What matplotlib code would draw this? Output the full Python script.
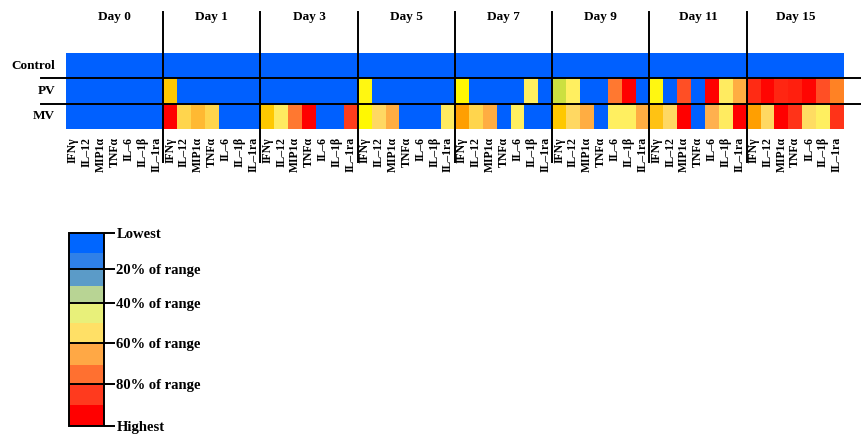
import numpy as np
import matplotlib
matplotlib.use("Agg")
import matplotlib.pyplot as plt
from matplotlib.colors import LinearSegmentedColormap, ListedColormap, BoundaryNorm

plt.rcParams['font.family'] = ['Liberation Serif', 'DejaVu Serif']
plt.rcParams['font.weight'] = 'bold'

days = ["Day 0", "Day 1", "Day 3", "Day 5", "Day 7", "Day 9", "Day 11", "Day 15"]
cytokines = ["IFNγ", "IL–12", "MIP1α", "TNFα", "IL–6", "IL–1β", "IL–1ra"]
groups = ["Control", "PV", "MV"]

# level of each cytokine, % of its range, per day (IFNγ .. IL-1ra)
control = [[0, 0, 0, 0, 0, 0, 0]] * 8
pv = [
    [0, 0, 0, 0, 0, 0, 0],
    [60, 0, 0, 0, 0, 0, 0],
    [0, 0, 0, 0, 0, 0, 0],
    [46, 0, 0, 0, 0, 0, 0],
    [45, 0, 0, 0, 0, 50, 0],
    [38, 50, 0, 0, 78, 100, 0],
    [46, 0, 86, 0, 100, 51, 66],
    [93, 99, 94, 95, 99, 86, 76],
]
mv = [
    [0, 0, 0, 0, 0, 0, 0],
    [100, 56, 63, 56, 0, 0, 0],
    [60, 51, 78, 100, 0, 0, 90],
    [45, 55, 66, 0, 0, 0, 51],
    [70, 56, 66, 0, 50, 0, 0],
    [60, 55, 66, 0, 50, 50, 66],
    [61, 55, 100, 0, 65, 51, 100],
    [70, 55, 100, 92, 54, 50, 92],
]

# legend bands (top = lowest)
legend_bounds = [0, 10.4, 18.7, 27.5, 36.3, 46.6, 57, 68.4, 78.2, 89.1, 100]
legend_colors = ["#0066FF", "#2F80E8", "#5B9BC8", "#B8D494", "#E8F07A",
                 "#FFE066", "#FFA845", "#FF7030", "#FF3A1E", "#FF0000"]
legend_ticks = [0, 18.7, 36.3, 57, 78.2, 100]
legend_labels = ["Lowest", "20% of range", "40% of range", "60% of range",
                 "80% of range", "Highest"]

anchors = [
    (0, "#0060FF"), (20, "#3A86E0"), (30, "#5C9CC4"), (38, "#CCE040"),
    (45, "#FFF800"), (50, "#FFF060"), (55, "#FFD862"), (60, "#FFC800"),
    (65, "#FFB050"), (70, "#FFA000"), (78, "#FF7830"), (85, "#FF5528"),
    (92, "#FF3418"), (100, "#FF0000"),
]
cmap = LinearSegmentedColormap.from_list("levels", [(v / 100, c) for v, c in anchors])

data = np.array([np.concatenate(control), np.concatenate(pv), np.concatenate(mv)])
n_cols = data.shape[1]
n_cyt = len(cytokines)

fig = plt.figure(figsize=(8.62, 4.34), dpi=100)
ax = fig.add_axes([0.0766, 0.703, 0.9024, 0.175])
ax.pcolormesh(np.arange(n_cols + 1), np.arange(4), data, cmap=cmap,
              vmin=0, vmax=100, shading="flat")
ax.set_xlim(0, n_cols)
ax.set_ylim(3, 0)
for s in ax.spines.values():
    s.set_visible(False)
ax.set_yticks([])
ax.set_xticks(np.arange(n_cols) + 0.5)
ax.set_xticklabels(cytokines * len(days), rotation=90, fontsize=8.5,
                   fontweight="bold")
ax.tick_params(axis="x", length=0, pad=6)
for lab in ax.get_xticklabels():
    lab.set_verticalalignment("top")

# row separators and group names
for y in [1, 2]:
    ax.axhline(y, xmin=-0.032, xmax=1.03, color="black", lw=1.4, clip_on=False)
for i, g in enumerate(groups):
    ax.text(-0.014, i + 0.5, g, transform=ax.get_yaxis_transform(),
            ha="right", va="center", fontsize=9.5, fontweight="bold")

# day separators and titles
for d in range(1, len(days)):
    ax.axvline(d * n_cyt, ymin=-0.43, ymax=1.54, color="black", lw=1.4,
               clip_on=False)
for d, name in enumerate(days):
    ax.text(d * n_cyt + n_cyt / 2, 1.47, name, transform=ax.get_xaxis_transform(),
            ha="center", va="center", fontsize=9.5, fontweight="bold")

# legend bar
cax = fig.add_axes([0.0800, 0.0184, 0.0406, 0.445])
norm = BoundaryNorm(legend_bounds, len(legend_colors))
sm = plt.cm.ScalarMappable(norm=norm, cmap=ListedColormap(legend_colors))
cb = fig.colorbar(sm, cax=cax, boundaries=legend_bounds, spacing="proportional",
                  ticks=legend_ticks)
cax.invert_yaxis()
cax.minorticks_off()
cb.set_ticklabels(legend_labels)
cax.tick_params(which="major", length=8, width=1.4, labelsize=10.5, pad=1)
cax.tick_params(which="minor", length=0)
for lab in cax.get_yticklabels():
    lab.set_fontweight("bold")
cb.outline.set_linewidth(1.4)
for t in legend_ticks[1:-1]:
    cax.axhline(t, color="black", lw=1.4)

fig.savefig("out.png", dpi=100)
